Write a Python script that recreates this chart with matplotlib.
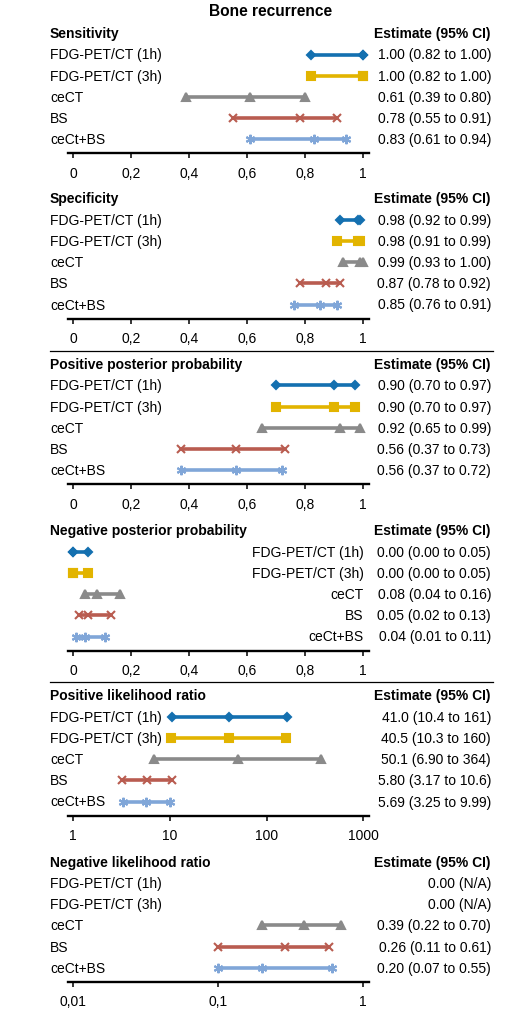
import matplotlib
matplotlib.use('Agg')
import matplotlib.pyplot as plt
import numpy as np

plt.rcParams['font.family'] = ['Liberation Sans', 'DejaVu Sans']

# ---------------- data ----------------
title = "Bone recurrence"
methods = ["FDG-PET/CT (1h)", "FDG-PET/CT (3h)", "ceCT", "BS", "ceCt+BS"]
panel_titles = ["Sensitivity", "Specificity", "Positive posterior probability",
                "Negative posterior probability", "Positive likelihood ratio",
                "Negative likelihood ratio"]
est_header = "Estimate (95% CI)"

sens_est = [1.00, 1.00, 0.61, 0.78, 0.83]
sens_lo = [0.82, 0.82, 0.39, 0.55, 0.61]
sens_hi = [1.00, 1.00, 0.80, 0.91, 0.94]
sens_txt = ["1.00 (0.82 to 1.00)", "1.00 (0.82 to 1.00)", "0.61 (0.39 to 0.80)",
            "0.78 (0.55 to 0.91)", "0.83 (0.61 to 0.94)"]

spec_est = [0.98, 0.98, 0.99, 0.87, 0.85]
spec_lo = [0.92, 0.91, 0.93, 0.78, 0.76]
spec_hi = [0.99, 0.99, 1.00, 0.92, 0.91]
spec_txt = ["0.98 (0.92 to 0.99)", "0.98 (0.91 to 0.99)", "0.99 (0.93 to 1.00)",
            "0.87 (0.78 to 0.92)", "0.85 (0.76 to 0.91)"]

ppv_est = [0.90, 0.90, 0.92, 0.56, 0.56]
ppv_lo = [0.70, 0.70, 0.65, 0.37, 0.37]
ppv_hi = [0.97, 0.97, 0.99, 0.73, 0.72]
ppv_txt = ["0.90 (0.70 to 0.97)", "0.90 (0.70 to 0.97)", "0.92 (0.65 to 0.99)",
           "0.56 (0.37 to 0.73)", "0.56 (0.37 to 0.72)"]

npv_est = [0.00, 0.00, 0.08, 0.05, 0.04]
npv_lo = [0.00, 0.00, 0.04, 0.02, 0.01]
npv_hi = [0.05, 0.05, 0.16, 0.13, 0.11]
npv_txt = ["0.00 (0.00 to 0.05)", "0.00 (0.00 to 0.05)", "0.08 (0.04 to 0.16)",
           "0.05 (0.02 to 0.13)", "0.04 (0.01 to 0.11)"]

plr_est = [41.0, 40.5, 50.1, 5.80, 5.69]
plr_lo = [10.4, 10.3, 6.90, 3.17, 3.25]
plr_hi = [161, 160, 364, 10.6, 9.99]
plr_txt = ["41.0 (10.4 to 161)", "40.5 (10.3 to 160)", "50.1 (6.90 to 364)",
           "5.80 (3.17 to 10.6)", "5.69 (3.25 to 9.99)"]

# marks as drawn in the picture (N/A rows have no marks)
nlr_est = [np.nan, np.nan, 0.39, 0.29, 0.20]
nlr_lo = [np.nan, np.nan, 0.20, 0.10, 0.10]
nlr_hi = [np.nan, np.nan, 0.70, 0.58, 0.61]
nlr_txt = ["0.00 (N/A)", "0.00 (N/A)", "0.39 (0.22 to 0.70)",
           "0.26 (0.11 to 0.61)", "0.20 (0.07 to 0.55)"]

lin_ticks = [0, 0.2, 0.4, 0.6, 0.8, 1]
lin_labels = ["0", "0,2", "0,4", "0,6", "0,8", "1"]
plr_ticks = [1, 10, 100, 1000]
plr_labels = ["1", "10", "100", "1000"]
nlr_ticks = [0.01, 0.1, 1]
nlr_labels = ["0,01", "0,1", "1"]

# ---------------- style ----------------
colors = ["#1470b0", "#e2b400", "#8a8a8a", "#b95c50", "#80a6d8"]
markers = ["D", "s", "^", "x", (6, 2, 0)]
msizes = [3.9, 6.3, 6.2, 5.8, 6.8]

panels = [
    (sens_est, sens_lo, sens_hi, sens_txt, "lin", lin_ticks, lin_labels),
    (spec_est, spec_lo, spec_hi, spec_txt, "lin", lin_ticks, lin_labels),
    (ppv_est, ppv_lo, ppv_hi, ppv_txt, "lin", lin_ticks, lin_labels),
    (npv_est, npv_lo, npv_hi, npv_txt, "lin", lin_ticks, lin_labels),
    (plr_est, plr_lo, plr_hi, plr_txt, "log", plr_ticks, plr_labels),
    (nlr_est, nlr_lo, nlr_hi, nlr_txt, "log", nlr_ticks, nlr_labels),
]

W, H = 521, 1012
fig = plt.figure(figsize=(W / 100, H / 100), dpi=100)

def fx(x):
    return x / W

def fy(y):
    return 1 - y / H

header_y = [34.3, 199.5, 365.2, 531.5, 696.5, 862.8]
row_gap = 21.2
axis_off = 120.0
ax_left, ax_right = 68.3, 369.3
x0px, x1px = 73.3, 363.3
label_x = 50
est_x = 491

fig.text(fx(271), fy(11.7), title, ha="center", va="center",
         fontsize=11.2, fontweight="bold")

for k, (est, lo, hi, txt, scale, ticks, tlabels) in enumerate(panels):
    hy = header_y[k]
    ay = hy + axis_off
    ax = fig.add_axes([fx(ax_left), fy(ay), (ax_right - ax_left) / W, axis_off / H])
    ax.set_facecolor("none")
    span = x1px - x0px
    if scale == "lin":
        a, b = ticks[0], ticks[-1]
        per = span / (b - a)
        ax.set_xlim(a - (x0px - ax_left) / per, b + (ax_right - x1px) / per)
    else:
        ax.set_xscale("log")
        a, b = np.log10(ticks[0]), np.log10(ticks[-1])
        per = span / (b - a)
        ax.set_xlim(10 ** (a - (x0px - ax_left) / per), 10 ** (b + (ax_right - x1px) / per))
    ax.set_ylim(axis_off / row_gap, 0)
    ax.set_xticks(ticks)
    ax.set_xticklabels(tlabels)
    ax.xaxis.set_minor_locator(matplotlib.ticker.NullLocator())
    ax.set_yticks([])
    for s in ["left", "right", "top"]:
        ax.spines[s].set_visible(False)
    ax.spines["bottom"].set_linewidth(1.7)
    ax.tick_params(axis="x", length=3.5, width=1.1, labelsize=10, pad=5.5)

    for i in range(5):
        y = i + 1
        if not np.isnan(est[i]):
            ax.plot([lo[i], hi[i]], [y, y], color=colors[i], lw=2.6,
                    solid_capstyle="butt", clip_on=False, zorder=2)
            ax.plot([lo[i], est[i], hi[i]], [y, y, y], ls="none", marker=markers[i],
                    ms=msizes[i], color=colors[i], mec=colors[i], mew=1.5,
                    clip_on=False, zorder=3)
        ry = hy + row_gap * y
        if k == 3:
            fig.text(fx(363.5), fy(ry), methods[i], ha="right", va="center", fontsize=10)
        else:
            fig.text(fx(label_x), fy(ry), methods[i], ha="left", va="center", fontsize=10)
        fig.text(fx(est_x), fy(ry), txt[i], ha="right", va="center", fontsize=10)

    fig.text(fx(label_x), fy(hy), panel_titles[k], ha="left", va="center",
             fontsize=10, fontweight="bold")
    fig.text(fx(est_x), fy(hy), est_header, ha="right", va="center",
             fontsize=10, fontweight="bold")

# separators
for sy in [351.8, 683.3]:
    fig.add_artist(matplotlib.lines.Line2D([fx(50), fx(493)], [fy(sy), fy(sy)],
                                           color="black", lw=0.9))

fig.savefig("out.png", dpi=100)
